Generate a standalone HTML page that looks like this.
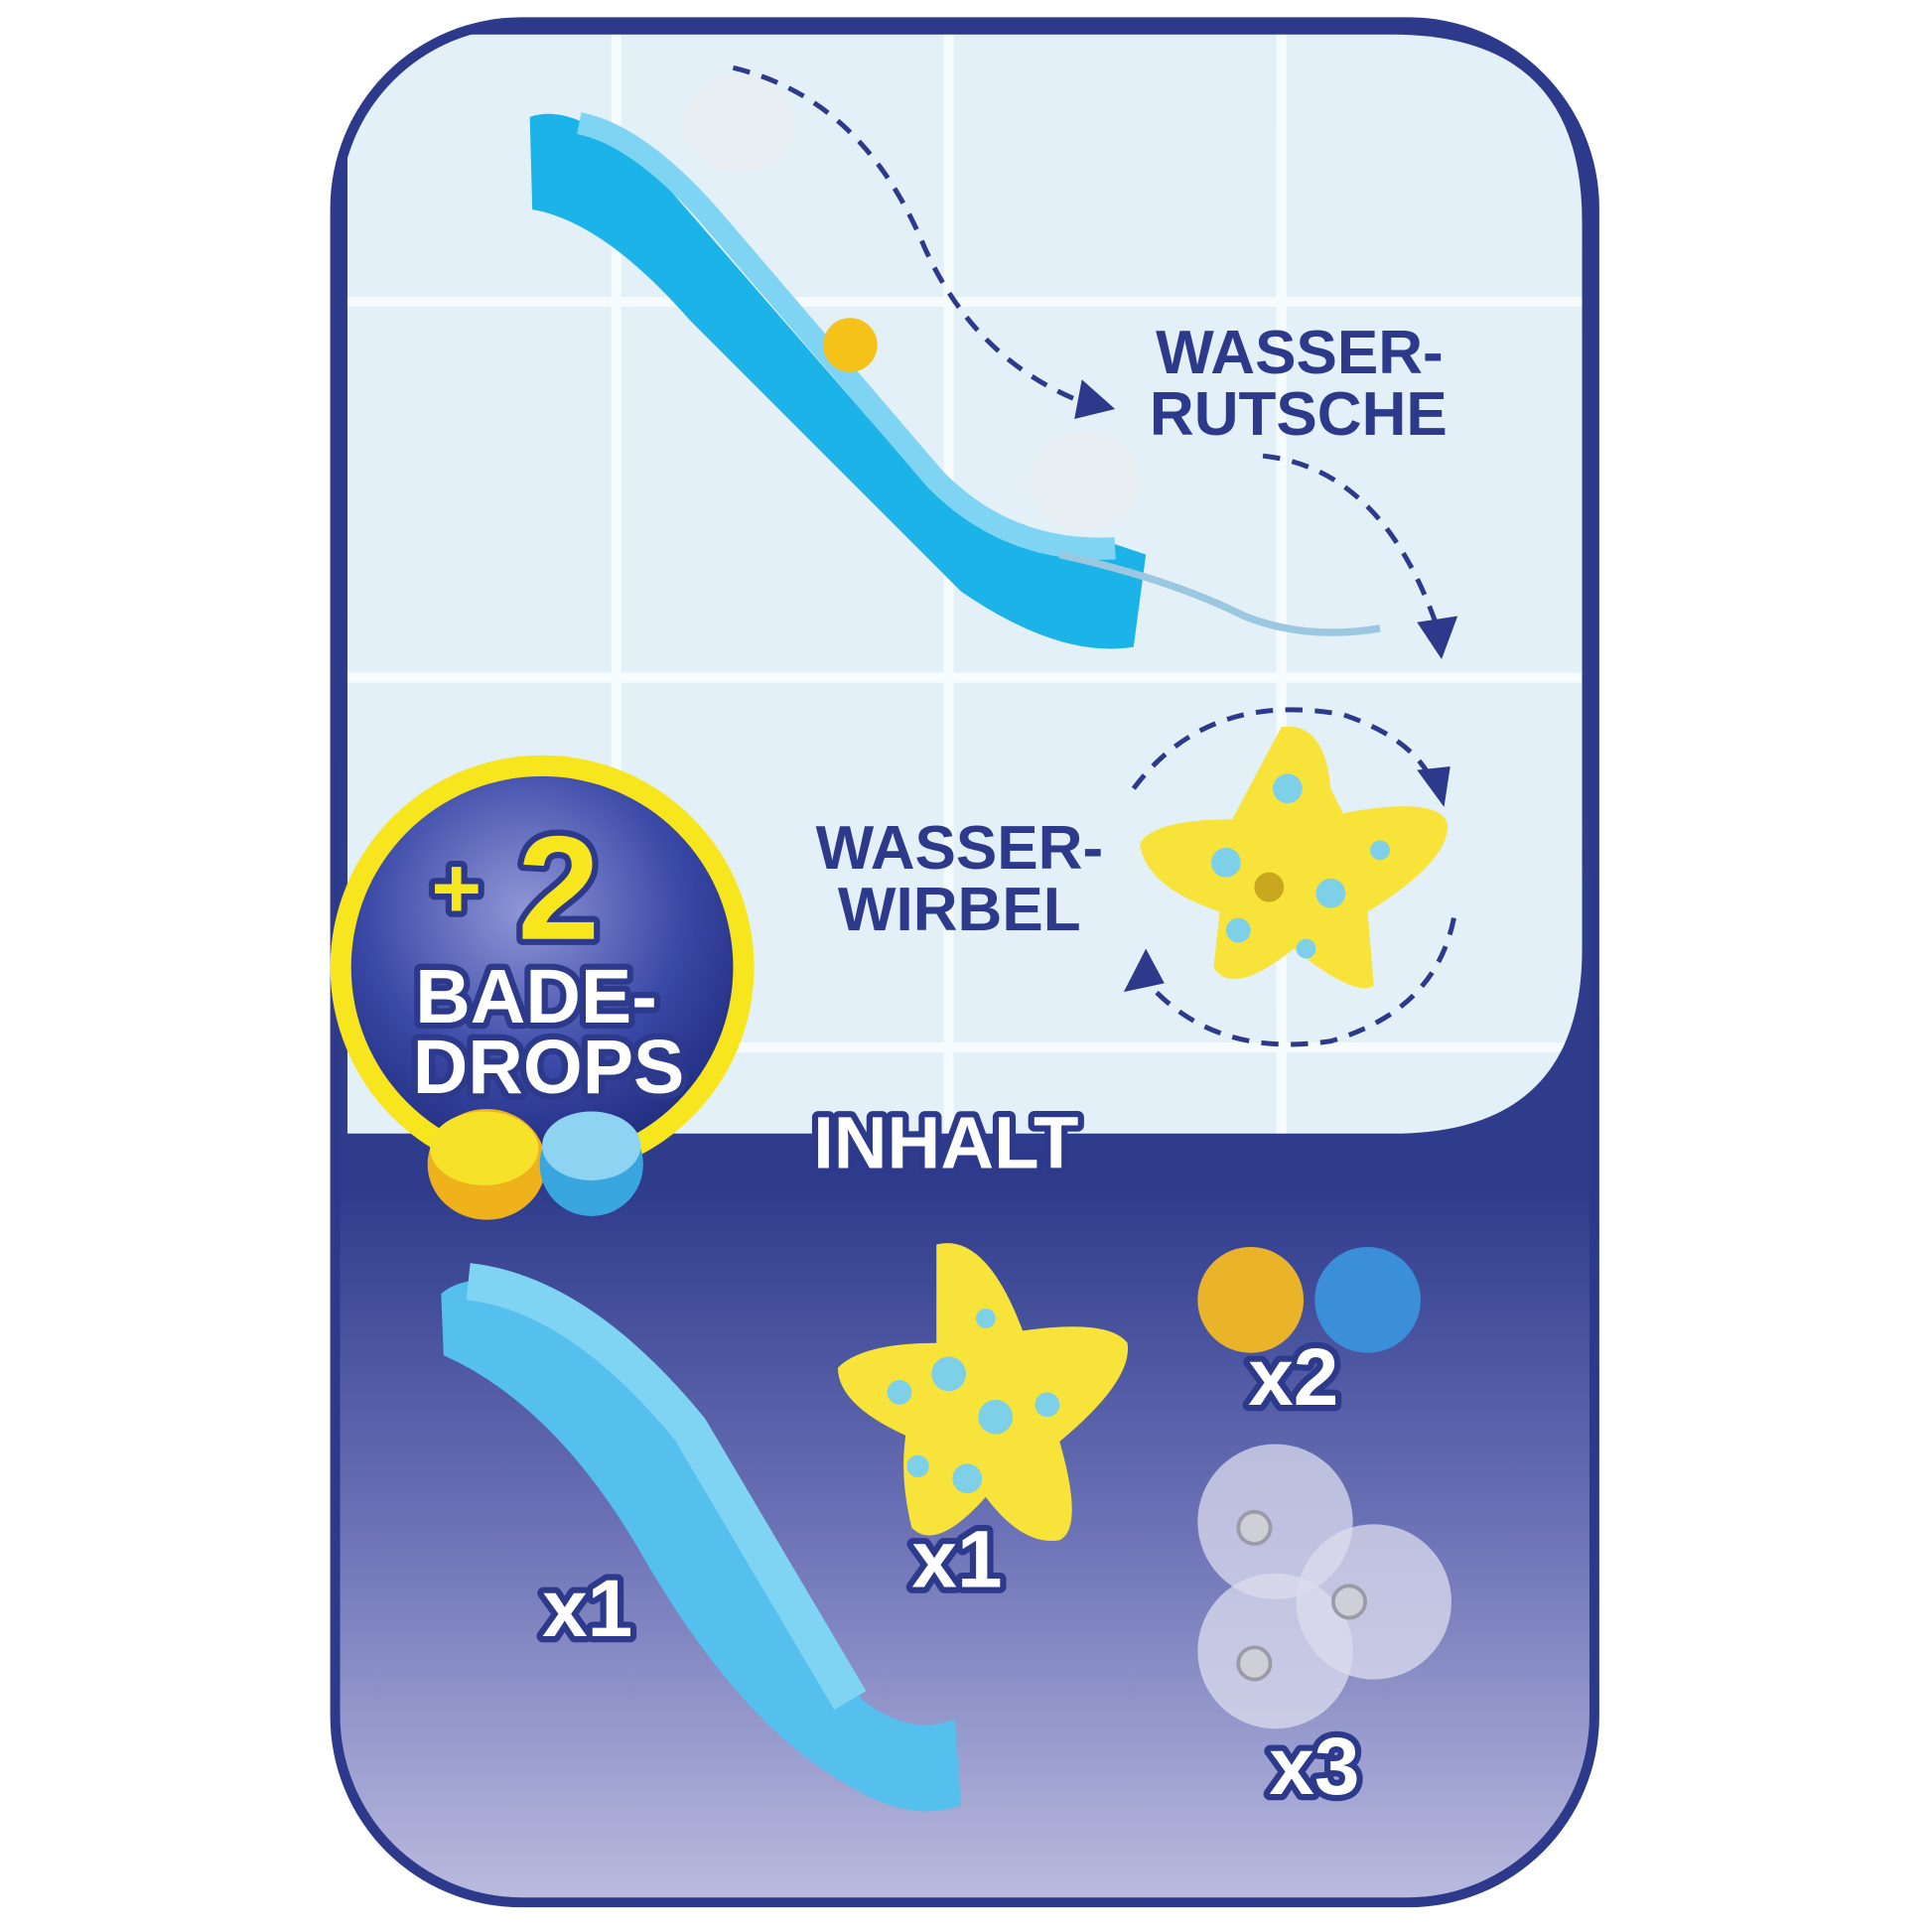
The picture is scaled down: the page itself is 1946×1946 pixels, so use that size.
<!DOCTYPE html>
<html><head><meta charset="utf-8"><style>
html,body{margin:0;padding:0;background:#fff;}
svg{display:block;}
text{font-family:"Liberation Sans",sans-serif;font-weight:bold;}
</style></head><body>
<svg width="1946" height="1946" viewBox="0 0 1568 1568" xmlns="http://www.w3.org/2000/svg">
<defs>
<linearGradient id="nav" x1="0" y1="0" x2="0" y2="1">
<stop offset="0" stop-color="#2d3a8a"/><stop offset="0.62" stop-color="#2f3c8c"/><stop offset="0.8" stop-color="#6c72b6"/><stop offset="1" stop-color="#bcbde0"/></linearGradient>
<radialGradient id="ball" cx="0.45" cy="0.35" r="0.7">
<stop offset="0" stop-color="#8f96d6"/><stop offset="0.6" stop-color="#3a48a6"/><stop offset="1" stop-color="#1e2a7a"/></radialGradient>
<clipPath id="card"><rect x="276" y="22" width="1014" height="1518" rx="148"/></clipPath>
<clipPath id="panel"><path d="M282 28 H1130 Q1284 28 1284 180 V770 Q1284 920 1130 920 H282 Z"/></clipPath>
</defs>
<rect x="268" y="14" width="1030" height="1534" rx="155" fill="#2d3a8c"/>
<g clip-path="url(#card)">
<rect x="260" y="10" width="1050" height="1540" fill="url(#nav)"/>
<path d="M282 28 H1130 Q1284 28 1284 180 V770 Q1284 920 1130 920 H282 Z" fill="#e3f0f8"/>
<g stroke="#f6fbfe" stroke-width="8" fill="none" clip-path="url(#panel)">
<path d="M500 28 V920 M770 28 V920 M1040 28 V920 M282 245 H1284 M282 550 H1284 M282 850 H1284"/>
</g>
</g>
<!-- top slide -->
<path d="M430 95 Q470 80 540 150 L740 380 Q800 450 900 440 L930 450 L920 525 Q860 535 780 480 L560 260 Q490 180 432 170 Z" fill="#1bb3e8"/>
<path d="M470 100 Q520 110 580 180 L760 390 Q820 450 905 445" stroke="#7fd4f3" stroke-width="18" fill="none"/>
<ellipse cx="690" cy="280" rx="22" ry="22" fill="#f5c21a"/>
<ellipse cx="600" cy="100" rx="45" ry="40" fill="#e8eef2"/>
<ellipse cx="880" cy="390" rx="45" ry="40" fill="#e8eef2"/>
<path d="M860 450 Q950 470 1010 500 Q1060 520 1120 510" stroke="#9cc7e0" stroke-width="6" fill="none"/>
<!-- dashed arrows -->
<g stroke="#2d3a8c" stroke-width="4" stroke-dasharray="14 10" fill="none">
<path d="M595 55 Q700 80 750 200 Q790 290 875 325"/>
<path d="M1025 370 Q1120 380 1165 505"/>
<path d="M920 640 Q980 560 1090 580 Q1150 600 1165 640"/>
<path d="M1180 745 Q1165 820 1080 845 Q980 860 925 790"/>
</g>
<g fill="#2d3a8c">
<path d="M878 308 L905 332 L872 340 Z"/>
<path d="M1150 505 L1183 500 L1170 535 Z"/>
<path d="M1150 625 L1177 622 L1172 655 Z"/>
<path d="M930 770 L912 805 L945 798 Z"/>
</g>
<!-- starfish top -->
<path d="M1040 590 Q1075 585 1080 640 L1090 660 Q1170 645 1175 670 Q1175 700 1110 740 L1115 800 Q1100 810 1050 770 Q1000 810 985 785 L990 740 Q930 720 925 685 Q935 665 1000 665 Z" fill="#f8e33a"/>
<g fill="#7ecfe8"><circle cx="1045" cy="640" r="12"/><circle cx="995" cy="700" r="12"/><circle cx="1080" cy="725" r="12"/><circle cx="1005" cy="755" r="10"/><circle cx="1120" cy="690" r="8"/><circle cx="1060" cy="770" r="8"/></g>
<circle cx="1030" cy="720" r="12" fill="#c9a820"/>
<!-- labels -->
<g fill="#2d3a8c" font-size="50">
<text x="938" y="303">WASSER-</text><text x="933" y="353">RUTSCHE</text>
<text x="662" y="705">WASSER-</text><text x="680" y="755">WIRBEL</text>
</g>
<!-- badge -->
<circle cx="440" cy="785" r="172" fill="#f7e51e"/>
<circle cx="440" cy="785" r="155" fill="url(#ball)"/>
<g stroke="#2d3a8c" stroke-width="10" stroke-linejoin="round" paint-order="stroke">
<text x="350" y="745" font-size="70" fill="#f7e51e">+</text>
<text x="420" y="762" font-size="120" fill="#f7e51e">2</text>
<text x="337" y="830" font-size="62" fill="#fff">BADE-</text>
<text x="335" y="887" font-size="62" fill="#fff">DROPS</text>
<text x="660" y="948" font-size="60" fill="#fff">INHALT</text>
</g>
<ellipse cx="395" cy="945" rx="48" ry="45" fill="#f0b21a"/><ellipse cx="393" cy="932" rx="44" ry="30" fill="#f7e22a"/>
<ellipse cx="480" cy="945" rx="42" ry="42" fill="#3aa6e0"/><ellipse cx="480" cy="930" rx="40" ry="28" fill="#8fd3f3"/>
<!-- bottom slide -->
<path d="M358 1050 Q380 1030 440 1045 Q520 1070 600 1210 L700 1380 Q740 1410 775 1395 L780 1465 Q740 1480 690 1450 Q600 1400 520 1260 Q450 1140 360 1100 Z" fill="#55bfee"/>
<path d="M380 1040 Q470 1050 560 1160 L690 1380" stroke="#7fd4f3" stroke-width="30" fill="none"/>
<!-- starfish bottom -->
<path d="M760 1010 Q800 1000 830 1080 Q900 1070 915 1090 Q920 1120 860 1170 Q880 1240 860 1250 Q830 1255 800 1215 Q760 1260 740 1240 Q730 1200 735 1165 Q680 1140 680 1110 Q700 1090 760 1090 Z" fill="#f8e33a"/>
<g fill="#7ecfe8"><circle cx="770" cy="1115" r="14"/><circle cx="808" cy="1150" r="14"/><circle cx="785" cy="1200" r="12"/><circle cx="730" cy="1130" r="10"/><circle cx="850" cy="1140" r="10"/><circle cx="800" cy="1070" r="8"/><circle cx="745" cy="1190" r="9"/></g>
<!-- drops -->
<circle cx="1015" cy="1055" r="43" fill="#e9b42a"/>
<circle cx="1110" cy="1055" r="43" fill="#3a8fd8"/>
<!-- suction cups -->
<g fill="#dcdcee" fill-opacity="0.75">
<circle cx="1035" cy="1235" r="63"/><circle cx="1115" cy="1300" r="63"/><circle cx="1035" cy="1340" r="63"/></g>
<g fill="#cfcfd8" stroke="#9a9aa8" stroke-width="3"><circle cx="1018" cy="1240" r="13"/><circle cx="1095" cy="1300" r="13"/><circle cx="1018" cy="1350" r="13"/></g>
<g stroke="#2d3a8c" stroke-width="10" stroke-linejoin="round" paint-order="stroke" fill="#fff" font-size="66">
<text x="1013" y="1140">x2</text>
<text x="740" y="1288">x1</text>
<text x="440" y="1328">x1</text>
<text x="1030" y="1456">x3</text>
</g>
</svg>
</body></html>
